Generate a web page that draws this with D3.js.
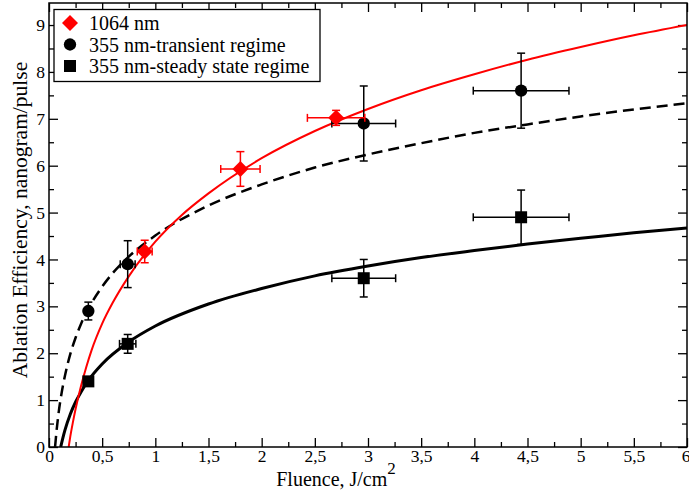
<!DOCTYPE html>
<html><head><meta charset="utf-8">
<script src="https://cdn.jsdelivr.net/npm/d3@7"></script>
<style>
body{margin:0;background:#fff;}
svg{display:block;font-family:"Liberation Serif","Times New Roman",serif;}
</style></head>
<body>
<svg id="chart" width="689" height="490"></svg>
<script>
// ---- data ----
const xMajorTicks = [0,0.5,1,1.5,2,2.5,3,3.5,4,4.5,5,5.5,6];
const xTickLabels = ["0","0,5","1","1,5","2","2,5","3","3,5","4","4,5","5","5,5","6"];
const yMajorTicks = [0,1,2,3,4,5,6,7,8,9];
const yTickLabels = ["0","1","2","3","4","5","6","7","8","9"];

// 1064 nm (red diamonds): x, y, xErr, yErr
const nm1064X    = [0.90, 1.80, 2.70];
const nm1064Y    = [4.17, 5.93, 7.02];
const nm1064XErr = [0.07, 0.185, 0.27];
const nm1064YErr = [0.24, 0.37, 0.16];

// 355 nm transient regime (circles)
const transX    = [0.37, 0.74, 2.96, 4.44];
const transY    = [2.90, 3.90, 6.90, 7.60];
const transXErr = [0.00, 0.07, 0.30, 0.45];
const transYErr = [0.19, 0.50, 0.80, 0.80];

// 355 nm steady state regime (squares)
const steadyX    = [0.37, 0.74, 2.96, 4.44];
const steadyY    = [1.40, 2.20, 3.60, 4.90];
const steadyXErr = [0.00, 0.077, 0.30, 0.45];
const steadyYErr = [0.00, 0.20, 0.40, 0.58];

// fitted curves
const fitRedX = [0.185,0.2,0.225,0.25,0.3,0.35,0.4,0.5,0.6,0.75,1,1.25,1.5,2,2.5,3,3.5,4,4.5,5,5.5,6];
const fitRedY = [0,0.22,0.53,0.81,1.29,1.70,2.06,2.63,3.08,3.64,4.38,4.95,5.41,6.16,6.74,7.21,7.61,7.95,8.26,8.53,8.78,9.00];
const fitDashX = [0.057,0.07,0.09,0.12,0.15,0.2,0.25,0.3,0.4,0.5,0.6,0.75,1,1.5,2,2.5,3,3.5,4,4.5,5,5.5,6];
const fitDashY = [0,0.32,0.72,1.17,1.52,1.98,2.33,2.62,3.07,3.42,3.71,4.06,4.51,5.15,5.60,5.96,6.24,6.48,6.70,6.88,7.05,7.20,7.33];
const fitSolidX = [0.11,0.13,0.15,0.2,0.25,0.3,0.37,0.5,0.75,1,1.5,2,2.5,3,3.5,4,4.5,5,5.5,6];
const fitSolidY = [0,0.19,0.36,0.70,0.96,1.17,1.42,1.77,2.24,2.58,3.05,3.38,3.65,3.86,4.04,4.19,4.33,4.45,4.57,4.67];

const legendLabels = ["1064 nm","355 nm-transient regime","355 nm-steady state regime"];

// ---- layout ----
const svg = d3.select("#chart");
const L = 49, R = 687, T = 3, B = 447;
const x = d3.scaleLinear().domain([0,6]).range([L,R]);
const y = d3.scaleLinear().domain([0,9.47]).range([B,T]);

svg.append("defs").append("clipPath").attr("id","clip")
  .append("rect").attr("x",L).attr("y",T).attr("width",R-L).attr("height",B-T);

const xMinor = d3.range(0,6.001,0.25).filter(v=>Math.abs(v*2-Math.round(v*2))>1e-6);
const yMinor = d3.range(0.5,9.5,1);

function styleAxis(g){
  g.attr("font-family",null).attr("font-size",null);
  g.select(".domain").remove();
  g.selectAll("line").attr("stroke","#000").attr("stroke-width",1.3);
}

const xAx = svg.append("g").attr("transform",`translate(0,${B})`)
  .call(d3.axisBottom(x).tickValues(xMajorTicks).tickSize(-9).tickPadding(3)
     .tickFormat((d,i)=>xTickLabels[i]))
  .call(styleAxis);
xAx.selectAll("text").attr("font-size",17.5).attr("fill","#000")
  .filter(d=>d===6).attr("text-anchor","end").attr("dx",3);
svg.append("g").attr("transform",`translate(0,${B})`)
  .call(d3.axisBottom(x).tickValues(xMinor).tickSize(-5).tickFormat(""))
  .call(styleAxis);
svg.append("g").attr("transform",`translate(0,${T})`)
  .call(d3.axisTop(x).tickValues(xMajorTicks).tickSize(-9).tickFormat(""))
  .call(styleAxis);
svg.append("g").attr("transform",`translate(0,${T})`)
  .call(d3.axisTop(x).tickValues(xMinor).tickSize(-5).tickFormat(""))
  .call(styleAxis);

svg.append("g").attr("transform",`translate(${L},0)`)
  .call(d3.axisLeft(y).tickValues(yMajorTicks).tickSize(-9).tickPadding(4)
     .tickFormat((d,i)=>yTickLabels[i]))
  .call(styleAxis)
  .selectAll("text").attr("font-size",17.5).attr("fill","#000");
svg.append("g").attr("transform",`translate(${L},0)`)
  .call(d3.axisLeft(y).tickValues(yMinor).tickSize(-5).tickFormat(""))
  .call(styleAxis);
svg.append("g").attr("transform",`translate(${R},0)`)
  .call(d3.axisRight(y).tickValues(yMajorTicks).tickSize(-9).tickFormat(""))
  .call(styleAxis);
svg.append("g").attr("transform",`translate(${R},0)`)
  .call(d3.axisRight(y).tickValues(yMinor).tickSize(-5).tickFormat(""))
  .call(styleAxis);

// curves
const line = d3.line().x(d=>x(d[0])).y(d=>y(d[1])).curve(d3.curveMonotoneX);
const plot = svg.append("g").attr("clip-path","url(#clip)");
plot.append("path").datum(d3.zip(fitDashX,fitDashY)).attr("d",line)
  .attr("fill","none").attr("stroke","#000").attr("stroke-width",2.5).attr("stroke-dasharray","11,6");
plot.append("path").datum(d3.zip(fitSolidX,fitSolidY)).attr("d",line)
  .attr("fill","none").attr("stroke","#000").attr("stroke-width",3);
plot.append("path").datum(d3.zip(fitRedX,fitRedY)).attr("d",line)
  .attr("fill","none").attr("stroke","#ff0000").attr("stroke-width",2);

// error bars + markers
function series(xs,ys,xe,ye,color,shape){
  const g = svg.append("g");
  const cap = 4;
  xs.forEach((xv,i)=>{
    const cx=x(xv), cy=y(ys[i]);
    if(ye[i]>0){
      const y1=y(ys[i]+ye[i]), y2=y(ys[i]-ye[i]);
      g.append("line").attr("x1",cx).attr("x2",cx).attr("y1",y1).attr("y2",y2).attr("stroke",color).attr("stroke-width",1.5);
      g.append("line").attr("x1",cx-cap).attr("x2",cx+cap).attr("y1",y1).attr("y2",y1).attr("stroke",color).attr("stroke-width",1.5);
      g.append("line").attr("x1",cx-cap).attr("x2",cx+cap).attr("y1",y2).attr("y2",y2).attr("stroke",color).attr("stroke-width",1.5);
    }
    if(xe[i]>0){
      const x1=x(xv-xe[i]), x2=x(xv+xe[i]);
      g.append("line").attr("x1",x1).attr("x2",x2).attr("y1",cy).attr("y2",cy).attr("stroke",color).attr("stroke-width",1.5);
      g.append("line").attr("x1",x1).attr("x2",x1).attr("y1",cy-cap).attr("y2",cy+cap).attr("stroke",color).attr("stroke-width",1.5);
      g.append("line").attr("x1",x2).attr("x2",x2).attr("y1",cy-cap).attr("y2",cy+cap).attr("stroke",color).attr("stroke-width",1.5);
    }
  });
  g.selectAll("path.m").data(d3.zip(xs,ys)).join("path").attr("class","m")
    .attr("transform",d=>`translate(${x(d[0])},${y(d[1])})`)
    .attr("d",shape).attr("fill",color);
}
const diamond = "M0,-8L8,0L0,8L-8,0Z";
const circle = d3.symbol(d3.symbolCircle, 120)();
const square = "M-6,-6H6V6H-6Z";
series(transX,transY,transXErr,transYErr,"#000",circle);
series(steadyX,steadyY,steadyXErr,steadyYErr,"#000",square);
series(nm1064X,nm1064Y,nm1064XErr,nm1064YErr,"#ff0000",diamond);

// frame
svg.append("rect").attr("x",L).attr("y",T).attr("width",R-L).attr("height",B-T)
  .attr("fill","none").attr("stroke","#000").attr("stroke-width",1.5);

// legend
const lg = svg.append("g");
lg.append("rect").attr("x",54).attr("y",9.5).attr("width",266).attr("height",72)
  .attr("fill","#fff").attr("stroke","#000").attr("stroke-width",1.3);
const legShapes = [diamond,circle,square], legColors=["#ff0000","#000","#000"];
legendLabels.forEach((t,i)=>{
  const yy = 23 + i*21.5;
  lg.append("path").attr("d",legShapes[i]).attr("fill",legColors[i]).attr("transform",`translate(70,${yy})`);
  lg.append("text").attr("x",89).attr("y",yy).attr("dy","0.35em").attr("font-size",20).attr("fill","#000").text(t);
});

// axis titles
const xt = svg.append("text").attr("x",336).attr("y",486).attr("text-anchor","middle").attr("font-size",20).attr("fill","#000");
xt.append("tspan").text("Fluence, J/cm");
xt.append("tspan").attr("font-size",17).attr("dy",-12).text("2");
svg.append("text").attr("transform","translate(27,220) rotate(-90)").attr("text-anchor","middle")
  .attr("font-size",21.5).attr("fill","#000").text("Ablation Efficiency, nanogram/pulse");
</script>
</body></html>
